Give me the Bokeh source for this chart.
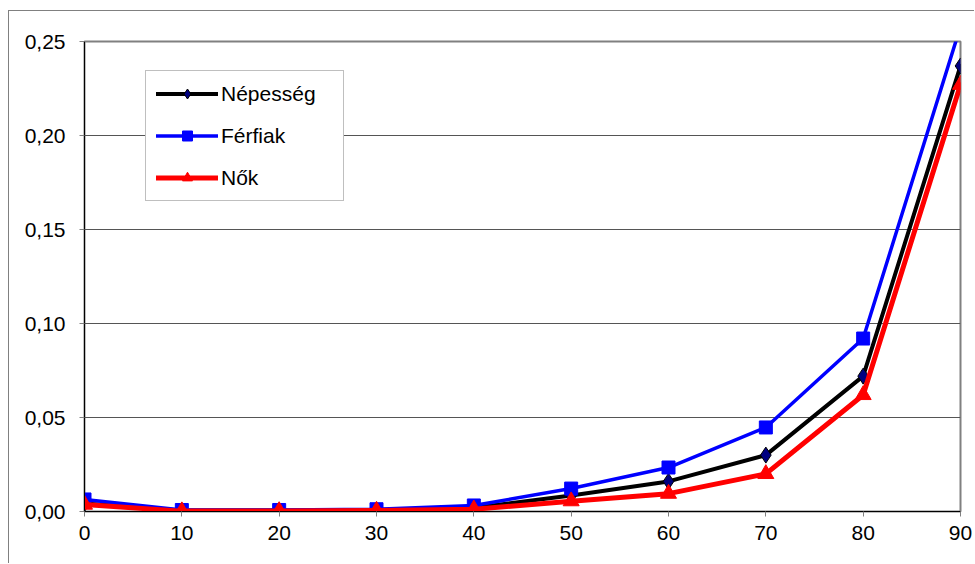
from bokeh.plotting import figure
from bokeh.models import (Range1d, FixedTicker, CustomJSTickFormatter, Legend, LegendItem)
from bokeh.embed import file_html
from bokeh.resources import INLINE

# Age groups and yearly rates
ages = [0, 10, 20, 30, 40, 50, 60, 70, 80, 90]
nepesseg = [0.0043, 0.0005, 0.0005, 0.0008, 0.0020, 0.0085, 0.0160, 0.0300, 0.0720, 0.2370]
ferfiak = [0.0064, 0.0008, 0.0008, 0.0012, 0.0032, 0.0122, 0.0234, 0.0447, 0.0920, 0.2580]
nok = [0.0037, 0.0002, 0.0003, 0.0005, 0.0012, 0.0055, 0.0095, 0.0200, 0.0620, 0.2270]

x_ticks = [0, 10, 20, 30, 40, 50, 60, 70, 80, 90]
y_ticks = [0.0, 0.05, 0.10, 0.15, 0.20, 0.25]

FONT = "Liberation Sans"
FONT_SIZE = "21px"

p = figure(width=966, height=553, output_backend="svg", toolbar_location=None,
           x_range=Range1d(0, 90), y_range=Range1d(0, 0.25),
           min_border_left=75, min_border_right=15, min_border_top=30, min_border_bottom=53)
p.styles = {"margin-left": "8px", "margin-top": "10px",
            "border-left": "1px solid #808080", "border-top": "1px solid #808080"}

p.outline_line_color = "#808080"
p.outline_line_width = 2
p.background_fill_color = "white"
p.border_fill_color = "white"

p.xgrid.grid_line_color = None
p.ygrid.grid_line_color = "#555555"
p.ygrid.grid_line_width = 1

for ax in (p.xaxis[0], p.yaxis[0]):
    ax.axis_line_color = "black"
    ax.axis_line_width = 1
    ax.major_tick_line_color = "#808080"
    ax.major_tick_in = 0
    ax.major_tick_out = 5
    ax.minor_tick_line_color = None
    ax.major_label_text_font = FONT
    ax.major_label_text_font_size = FONT_SIZE
    ax.major_label_text_color = "black"

p.xaxis.ticker = FixedTicker(ticks=x_ticks)
p.yaxis.ticker = FixedTicker(ticks=y_ticks)
p.yaxis.formatter = CustomJSTickFormatter(code="return tick.toFixed(2).replace('.', ',');")
p.xaxis.major_label_standoff = 9
p.yaxis.major_label_standoff = 14

l1 = p.line(ages, nepesseg, line_color="black", line_width=4)
s1 = p.scatter(ages, nepesseg, marker="diamond", size=16, fill_color="#000080",
               line_color="black", line_width=1)
l2 = p.line(ages, ferfiak, line_color="#0000ff", line_width=3.5)
s2 = p.scatter(ages, ferfiak, marker="square", size=13, fill_color="#0000ff",
               line_color="#0000ff")
l3 = p.line(ages, nok, line_color="#ff0000", line_width=5)
s3 = p.scatter(ages, nok, marker="triangle", size=16, fill_color="#ff0000",
               line_color="#ff0000")
for ln in (l1, l2, l3):
    ln.glyph.line_cap = "round"
    ln.glyph.line_join = "round"

legend = Legend(items=[
    LegendItem(label="Népesség", renderers=[l1, s1]),
    LegendItem(label="Férfiak", renderers=[l2, s2]),
    LegendItem(label="Nők", renderers=[l3, s3]),
], location=(61, 310))
legend.border_line_color = "#808080"
legend.border_line_width = 1
legend.background_fill_color = "white"
legend.background_fill_alpha = 1
legend.padding = 10
legend.margin = 0
legend.spacing = 17
legend.glyph_width = 62
legend.glyph_height = 25
legend.label_height = 25
legend.label_standoff = 3
legend.label_width = 112
legend.label_text_font = FONT
legend.label_text_font_size = FONT_SIZE
legend.label_text_color = "black"
p.add_layout(legend, "center")

open("out.html", "w").write(file_html(p, INLINE))
